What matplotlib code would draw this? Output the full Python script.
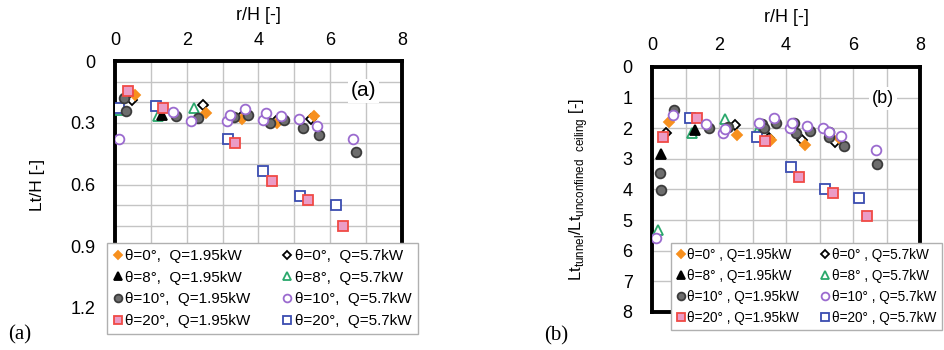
import matplotlib.pyplot as plt
from matplotlib.ticker import MultipleLocator

plt.rcParams['font.family'] = ['Liberation Sans', 'DejaVu Sans']

# ---- panel (a): Lt/H against r/H ----
a_t0_lo_x = [0.56, 2.54, 3.55, 4.52, 5.55]
a_t0_lo_y = [0.163, 0.255, 0.28, 0.30, 0.268]
a_t0_hi_x = [0.47, 2.44, 3.51, 4.50, 5.47]
a_t0_hi_y = [0.19, 0.215, 0.27, 0.29, 0.28]
a_t8_lo_x = [1.30]
a_t8_lo_y = [0.263]
a_t8_hi_x = [0.12, 1.21, 2.19]
a_t8_hi_y = [0.24, 0.268, 0.228]
a_t10_lo_x = [0.25, 0.31, 1.70, 2.31, 3.32, 3.72, 4.31, 4.70, 5.24, 5.68, 6.72]
a_t10_lo_y = [0.182, 0.244, 0.268, 0.276, 0.272, 0.26, 0.30, 0.288, 0.325, 0.36, 0.44]
a_t10_hi_x = [0.12, 1.63, 2.12, 3.12, 3.21, 3.63, 4.14, 4.21, 4.64, 5.12, 5.63, 6.63]
a_t10_hi_y = [0.38, 0.247, 0.293, 0.293, 0.263, 0.231, 0.285, 0.255, 0.268, 0.28, 0.317, 0.377]
a_t20_lo_x = [0.35, 1.35, 3.35, 4.38, 5.37, 6.36]
a_t20_lo_y = [0.145, 0.23, 0.40, 0.585, 0.673, 0.80]
a_t20_hi_x = [0.12, 1.14, 3.14, 4.14, 5.15, 6.15]
a_t20_hi_y = [0.228, 0.218, 0.377, 0.532, 0.657, 0.70]

# ---- panel (b): Lt tunnel / Lt unconfined ceiling against r/H ----
b_t0_lo_x = [0.52, 2.54, 3.56, 4.56, 5.57]
b_t0_lo_y = [1.78, 2.23, 2.37, 2.55, 2.31]
b_t0_hi_x = [0.42, 2.47, 3.49, 4.47, 5.47]
b_t0_hi_y = [2.17, 1.90, 2.31, 2.39, 2.46]
b_t8_lo_x = [0.27, 1.28]
b_t8_lo_y = [2.84, 2.06]
b_t8_hi_x = [0.17, 1.20, 2.17, 3.14]
b_t8_hi_y = [5.32, 2.15, 1.70, 2.12]
b_t10_lo_x = [0.25, 0.28, 0.67, 1.69, 2.27, 3.28, 3.33, 3.70, 4.23, 4.31, 4.71, 5.28, 5.28, 5.73, 6.71]
b_t10_lo_y = [3.45, 4.02, 1.41, 2.00, 1.95, 1.87, 1.99, 1.84, 1.84, 2.14, 2.08, 2.12, 2.30, 2.58, 3.17]
b_t10_hi_x = [0.62, 0.13, 1.62, 2.12, 2.17, 3.20, 3.63, 4.11, 4.19, 4.63, 5.11, 5.28, 5.65, 6.68]
b_t10_hi_y = [1.57, 5.59, 1.87, 2.15, 2.04, 1.84, 1.65, 2.00, 1.82, 1.93, 2.00, 2.12, 2.26, 2.71]
b_t20_lo_x = [0.33, 1.35, 3.36, 4.39, 5.39, 6.41]
b_t20_lo_y = [2.30, 1.66, 2.42, 3.58, 4.10, 4.86]
b_t20_hi_x = [1.12, 3.12, 4.16, 5.15, 6.18]
b_t20_hi_y = [1.68, 2.30, 3.26, 4.00, 4.27]

angles = ['0', '8', '10', '20']

# marker styles per angle: (marker, size, face, edge) for 1.95kW and 5.7kW
style_lo = [('D', 5.0, '#f7901e', '#f7901e'),
            ('^', 6.5, '#000000', '#000000'),
            ('o', 7.0, '#6d6d6d', '#3c3c3c'),
            ('s', 7.0, '#eb9cc6', '#f04a45')]
style_hi = [('D', 5.0, '#ffffff', '#000000'),
            ('^', 7.0, '#ffffff', '#2aa86c'),
            ('o', 7.0, '#ffffff', '#9b6bcf'),
            ('s', 7.0, '#ffffff', '#3a4cb0')]


def draw_panel(ax, lo, hi, sep):
    h_lo, h_hi = [], []
    for i, a in enumerate(angles):
        m, s, fc, ec = style_hi[i]
        h, = ax.plot(hi[i][0], hi[i][1], ls='none', marker=m, ms=s, mfc=fc,
                     mec=ec, mew=1.3, zorder=3 + (i == 2) * 2,
                     label=f'θ={a}°{sep}Q=5.7kW')
        h_hi.append(h)
        m, s, fc, ec = style_lo[i]
        h, = ax.plot(lo[i][0], lo[i][1], ls='none', marker=m, ms=s, mfc=fc,
                     mec=ec, mew=1.3, zorder=4,
                     label=f'θ={a}°{sep}Q=1.95kW')
        h_lo.append(h)
    ax.set_xlim(0, 8)
    ax.xaxis.tick_top()
    ax.xaxis.set_label_position('top')
    ax.xaxis.set_major_locator(MultipleLocator(2))
    ax.xaxis.set_minor_locator(MultipleLocator(1))
    ax.grid(True, which='both', color='#c4c4c4', lw=1.0, zorder=0)
    ax.tick_params(which='both', length=0, labelsize=13)
    ax.tick_params(axis='y', pad=14)
    ax.tick_params(axis='x', pad=9)
    for sp in ax.spines.values():
        sp.set_linewidth(2.8)
    ax.set_xlabel('r/H [-]', fontsize=13)
    return h_lo + h_hi


fig = plt.figure(figsize=(9.44, 3.5), dpi=100)

ax1 = fig.add_axes([0.1218, 0.12, 0.304, 0.7057])
handles1 = draw_panel(
    ax1,
    [(a_t0_lo_x, a_t0_lo_y), (a_t8_lo_x, a_t8_lo_y),
     (a_t10_lo_x, a_t10_lo_y), (a_t20_lo_x, a_t20_lo_y)],
    [(a_t0_hi_x, a_t0_hi_y), (a_t8_hi_x, a_t8_hi_y),
     (a_t10_hi_x, a_t10_hi_y), (a_t20_hi_x, a_t20_hi_y)],
    ',  ')
ax1.set_ylim(1.2, 0)
ax1.yaxis.set_minor_locator(MultipleLocator(0.1))
ax1.set_yticks([0, 0.3, 0.6, 0.9, 1.2])
ax1.set_yticklabels(['0', '0.3', '0.6', '0.9', '1.2'])
ax1.set_ylabel('Lt/H [-]', fontsize=12.5)
ax1.yaxis.set_label_coords(-0.244, 0.5)
ax1.xaxis.set_label_coords(0.5, 1.166)
ax1.text(6.92, 0.145, '(a)', fontsize=15, ha='center', va='center', zorder=6,
         bbox=dict(facecolor='white', edgecolor='none', pad=2))

ax2 = fig.add_axes([0.6907, 0.1086, 0.284, 0.7])
handles2 = draw_panel(
    ax2,
    [(b_t0_lo_x, b_t0_lo_y), (b_t8_lo_x, b_t8_lo_y),
     (b_t10_lo_x, b_t10_lo_y), (b_t20_lo_x, b_t20_lo_y)],
    [(b_t0_hi_x, b_t0_hi_y), (b_t8_hi_x, b_t8_hi_y),
     (b_t10_hi_x, b_t10_hi_y), (b_t20_hi_x, b_t20_hi_y)],
    ' , ')
ax2.set_ylim(8, 0)
ax2.yaxis.set_major_locator(MultipleLocator(1))
ax2.set_ylabel(r'Lt$_{\mathregular{tunnel}}$/Lt$_{\mathregular{unconfined\ \ ceiling}}$ [-]',
               fontsize=12)
ax2.yaxis.set_label_coords(-0.231, 0.5)
ax2.xaxis.set_label_coords(0.5, 1.184)
ax2.text(6.9, 1.03, '(b)', fontsize=13, ha='center', va='center', zorder=6,
         bbox=dict(facecolor='white', edgecolor='none', pad=2))

leg_kw = dict(loc='upper left', ncol=2, frameon=True, fancybox=False,
              borderaxespad=0, handlelength=0.6, handletextpad=0.2,
              markerscale=0.8, framealpha=1)
leg1 = fig.legend(handles=handles1, bbox_to_anchor=(0.1133, 0.3057),
                  fontsize=11, labelspacing=0.5, columnspacing=2.1,
                  borderpad=0.4, **leg_kw)
leg1.get_frame().set_edgecolor('#b0b0b0')
leg1.get_frame().set_linewidth(1.0)

leg2 = fig.legend(handles=handles2, bbox_to_anchor=(0.7108, 0.3063),
                  fontsize=9.8, labelspacing=0.5, columnspacing=1.6,
                  borderpad=0.4, **leg_kw)
leg2.get_frame().set_edgecolor('#b0b0b0')
leg2.get_frame().set_linewidth(1.0)

fig.text(0.021, 0.043, '(a)', fontsize=15, family='Liberation Serif',
         ha='center', va='center')
fig.text(0.589, 0.04, '(b)', fontsize=15, family='Liberation Serif',
         ha='center', va='center')

fig.savefig('out.png', dpi=100)
